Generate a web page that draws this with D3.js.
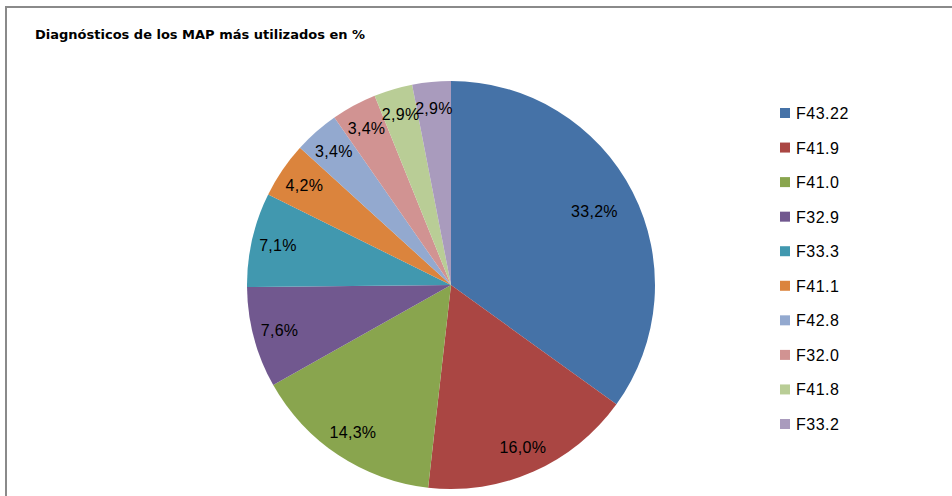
<!DOCTYPE html>
<html>
<head>
<meta charset="utf-8">
<script src="https://cdn.jsdelivr.net/npm/d3@7"></script>
<style>
  html, body { margin: 0; padding: 0; background: #fff; }
  svg { display: block; }
</style>
</head>
<body>
<svg id="chart" width="952" height="496"></svg>
<script>
// Diagnósticos (códigos CIE-10) y porcentajes
const categories = ["F43.22", "F41.9", "F41.0", "F32.9", "F33.3", "F41.1", "F42.8", "F32.0", "F41.8", "F33.2"];
const values = [33.2, 16.0, 14.3, 7.6, 7.1, 4.2, 3.4, 3.4, 2.9, 2.9];
const colors = ["#4572A7", "#AA4643", "#89A54E", "#71588F", "#4198AF", "#DB843D", "#93A9CF", "#D19392", "#B9CD96", "#A99BBD"];
const title = "Diagnósticos de los MAP más utilizados en %";

const svg = d3.select("#chart");
const W = 952, H = 496;

// frame of the chart area
svg.append("path")
  .attr("d", `M6,${H} L6,7 L${W},7`)
  .attr("fill", "none")
  .attr("stroke", "#8a8a8a")
  .attr("stroke-width", 2);

svg.append("text")
  .attr("x", 35)
  .attr("y", 39)
  .attr("font-family", "DejaVu Sans, Verdana, sans-serif")
  .attr("font-size", 13)
  .attr("font-weight", "bold")
  .attr("fill", "#000")
  .text(title);

const cx = 451, cy = 285, R = 204;
const color = d3.scaleOrdinal().domain(categories).range(colors);

const data = categories.map((c, i) => ({ cat: c, value: values[i] }));
const pie = d3.pie().value(d => d.value).sort(null);
const arcs = pie(data);
const arc = d3.arc().innerRadius(0).outerRadius(R);

const g = svg.append("g").attr("transform", `translate(${cx},${cy})`);

g.selectAll("path.slice")
  .data(arcs)
  .join("path")
  .attr("class", "slice")
  .attr("d", arc)
  .attr("fill", d => color(d.data.cat));

// value labels: the large slice keeps its label further inside
const fmt = v => v.toFixed(1).replace(".", ",") + "%";
g.selectAll("text.val")
  .data(arcs)
  .join("text")
  .attr("class", "val")
  .each(function(d) {
    const a = (d.startAngle + d.endAngle) / 2;
    const frac = (d.endAngle - d.startAngle) > Math.PI / 2 ? 0.79 : 0.87;
    const r = R * frac;
    d3.select(this)
      .attr("x", Math.sin(a) * r)
      .attr("y", -Math.cos(a) * r);
  })
  .attr("text-anchor", "middle")
  .attr("dominant-baseline", "central")
  .attr("font-family", "Liberation Sans, Arial, sans-serif")
  .attr("font-size", 16)
  .attr("letter-spacing", 0.3)
  .attr("fill", "#000")
  .text(d => fmt(d.data.value));

// legend
const ly = d3.scalePoint().domain(categories).range([113, 424]);
const lg = svg.append("g");
const items = lg.selectAll("g.item")
  .data(categories)
  .join("g")
  .attr("class", "item")
  .attr("transform", d => `translate(780,${ly(d)})`);

items.append("rect")
  .attr("x", 0).attr("y", -5)
  .attr("width", 10).attr("height", 10)
  .attr("fill", d => color(d));

items.append("text")
  .attr("x", 16)
  .attr("y", 6)
  .attr("font-family", "Liberation Sans, Arial, sans-serif")
  .attr("font-size", 16)
  .attr("letter-spacing", 0.5)
  .attr("fill", "#000")
  .text(d => d);
</script>
</body>
</html>
